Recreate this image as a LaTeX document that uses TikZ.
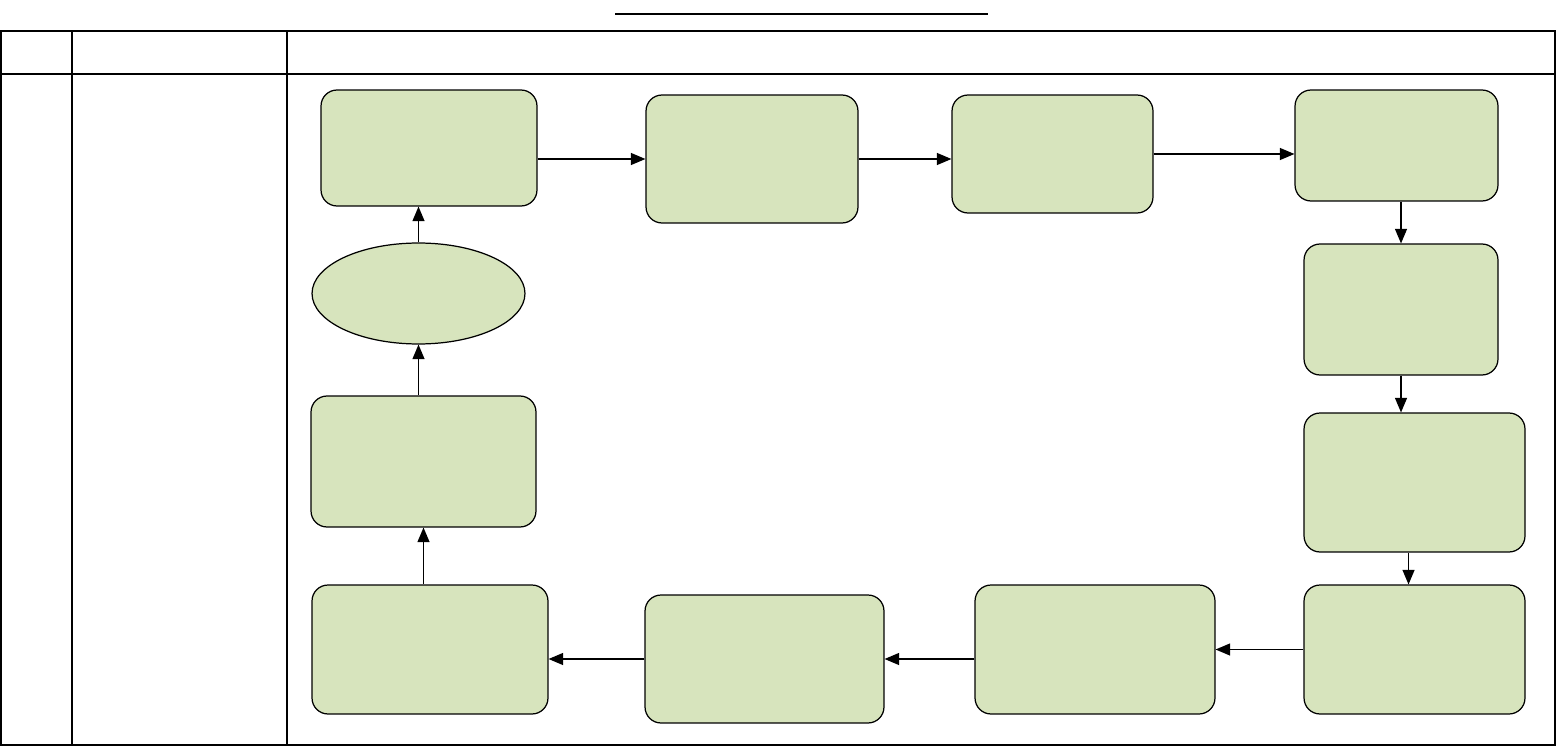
\documentclass[tikz,border=0pt]{standalone}
\usepackage[usenames,dvipsnames]{xcolor}
\usepackage{tikz}
\usetikzlibrary{arrows,shapes}
\definecolor{boxgreen}{HTML}{D7E4BD}

\begin{document}
\begin{tikzpicture}[x=0.02cm,y=-0.02cm,
    stepbox/.style={draw,fill=boxgreen,rounded corners=0.32cm,line width=0.7pt,inner sep=0pt},
    startnode/.style={draw,fill=boxgreen,ellipse,line width=0.7pt,inner sep=0pt},
    flow/.style={-triangle 45,line width=0.9pt},
    grid/.style={line width=1pt}]
    \useasboundingbox (0,0) rectangle (1557,746);
    \draw[line width=1.2pt] (615,14) -- (988,14);
    \draw[grid] (1,31) rectangle (1555,745);
    \draw[grid] (1,74) -- (1555,74);
    \draw[grid] (72,31) -- (72,745);
    \draw[grid] (287,31) -- (287,745);

    \node[stepbox,minimum width=4.32cm,minimum height=2.32cm] (A) at (429,148) {};
    \node[stepbox,minimum width=4.24cm,minimum height=2.56cm] (B) at (752,159) {};
    \node[stepbox,minimum width=4.02cm,minimum height=2.36cm] (C) at (1052.5,154) {};
    \node[stepbox,minimum width=4.06cm,minimum height=2.22cm] (D) at (1396.5,145.5) {};
    \node[stepbox,minimum width=3.88cm,minimum height=2.62cm] (E) at (1401,309.5) {};
    \node[stepbox,minimum width=4.42cm,minimum height=2.78cm] (F) at (1414.5,482.5) {};
    \node[stepbox,minimum width=4.42cm,minimum height=2.58cm] (G) at (1414.5,649.5) {};
    \node[stepbox,minimum width=4.80cm,minimum height=2.58cm] (H) at (1095,649.5) {};
    \node[stepbox,minimum width=4.78cm,minimum height=2.56cm] (I) at (764.5,659) {};
    \node[stepbox,minimum width=4.72cm,minimum height=2.58cm] (J) at (430,649.5) {};
    \node[stepbox,minimum width=4.50cm,minimum height=2.62cm] (K) at (423.5,461.5) {};
    \node[startnode,minimum width=4.26cm,minimum height=2.02cm] (L) at (418.5,293.5) {};

    \draw[flow] (A.east |- B.west) -- (B.west);
    \draw[flow] (B.east) -- (B.east -| C.west);
    \draw[flow] (C.east) -- (C.east -| D.west);
    \draw[flow] (D.south -| E.north) -- (E.north);
    \draw[flow] (E.south) -- (E.south |- F.north);
    \draw[flow] ([xshift=-0.12cm]F.south) -- ([xshift=-0.12cm]G.north);
    \draw[flow] (G.west) -- (H.east);
    \draw[flow] (H.west |- I.east) -- (I.east);
    \draw[flow] (I.west) -- (I.west -| J.east);
    \draw[flow] (J.north -| K.south) -- (K.south);
    \draw[flow] (L.south |- K.north) -- (L.south);
    \draw[flow] (L.north) -- (L.north |- A.south);
\end{tikzpicture}
\end{document}
